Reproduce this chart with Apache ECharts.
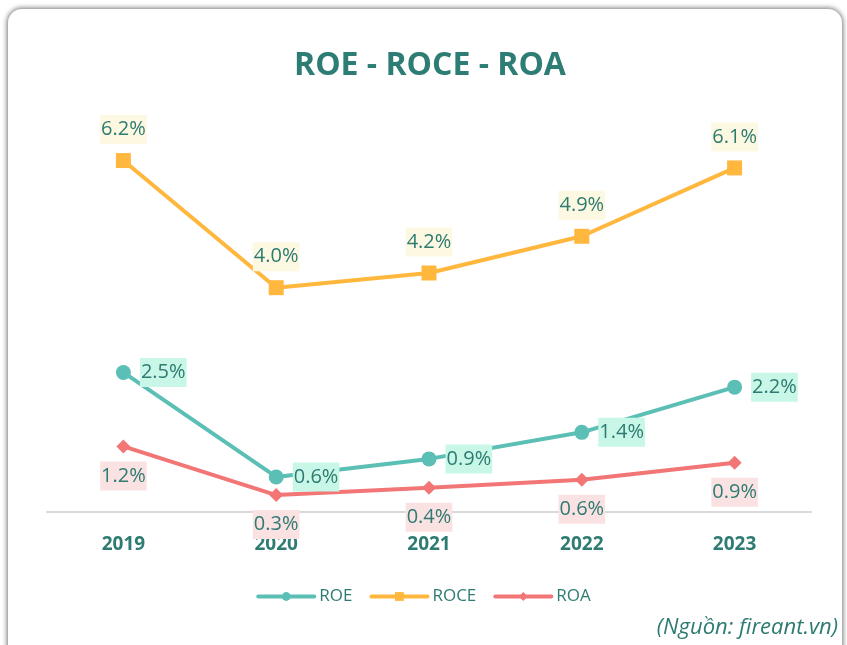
<!DOCTYPE html>
<html>
<head>
<meta charset="utf-8">
<script src="https://cdn.jsdelivr.net/npm/echarts@6/dist/echarts.min.js"></script>
<style>
  html, body { margin: 0; padding: 0; background: #fff; }
  .card {
    position: absolute; left: 8px; top: 9px; width: 834px; height: 680px;
    background: #fff; border-radius: 14px;
    box-shadow: 0 0 5px 1px rgba(0, 0, 0, 0.55);
  }
  #chart { position: absolute; left: 0; top: 0; width: 847px; height: 645px; }
</style>
</head>
<body>
<div class="card"></div>
<div id="chart"></div>
<script>
const years = ['2019', '2020', '2021', '2022', '2023']
const roe = [2.47, 0.62, 0.94, 1.41, 2.21]
const roce = [6.22, 3.97, 4.23, 4.88, 6.09]
const roa = [1.16, 0.30, 0.43, 0.57, 0.87]

const teal = '#2e7b72'
const font = "'Open Sans', 'Noto Sans', sans-serif"

// nhãn giá trị có nền màu
function makeLabel(pos, dist, bg) {
  return {
    show: true,
    position: pos,
    distance: dist,
    color: teal,
    fontFamily: font,
    fontSize: 20,
    lineHeight: 25,
    padding: [2, 1, 2, 1],
    backgroundColor: bg,
    formatter: (p) => p.value.toFixed(1) + '%'
  }
}

const mychart = echarts.init(document.getElementById('chart'))
mychart.setOption({
  animation: false,
  backgroundColor: 'transparent',
  title: {
    text: 'ROE - ROCE - ROA',
    left: 289,
    top: 45,
    textStyle: { color: '#2d7d74', fontSize: 32, fontWeight: 'bold', fontFamily: font }
  },
  grid: { left: 47, right: 36, top: 116.5, bottom: 133 },
  xAxis: {
    type: 'category',
    data: years,
    boundaryGap: true,
    axisLine: { lineStyle: { color: '#d9d9d9', width: 2 } },
    axisTick: { show: false },
    axisLabel: { color: teal, fontWeight: 'bold', fontSize: 19, fontFamily: font, margin: 23 }
  },
  yAxis: {
    type: 'value',
    min: 0,
    max: 7,
    show: false,
    splitLine: { show: false }
  },
  legend: {
    bottom: 35,
    left: 'center',
    itemWidth: 56,
    itemHeight: 11,
    itemGap: 17,
    lineStyle: { width: 4, cap: 'round' },
    textStyle: { color: teal, fontSize: 17, fontFamily: font },
    data: ['ROE', 'ROCE', 'ROA']
  },
  graphic: [
    {
      type: 'text',
      right: 9,
      bottom: 6,
      style: {
        text: '(Nguồn: fireant.vn)',
        fill: teal,
        font: 'italic 22px ' + font
      }
    }
  ],
  series: [
    {
      name: 'ROE',
      type: 'line',
      data: roe,
      symbol: 'circle',
      symbolSize: 15,
      color: '#5bbfb6',
      lineStyle: { width: 4 },
      label: makeLabel('right', 9, '#c8f7e7')
    },
    {
      name: 'ROCE',
      type: 'line',
      data: roce,
      symbol: 'rect',
      symbolSize: 15,
      color: '#ffb73e',
      lineStyle: { width: 4 },
      label: makeLabel('top', 9, '#fdf8e2')
    },
    {
      name: 'ROA',
      type: 'line',
      data: roa,
      symbol: 'diamond',
      symbolSize: 14,
      color: '#f27676',
      lineStyle: { width: 4 },
      label: makeLabel('bottom', 8, '#fbe2e2')
    }
  ]
})
</script>
</body>
</html>
